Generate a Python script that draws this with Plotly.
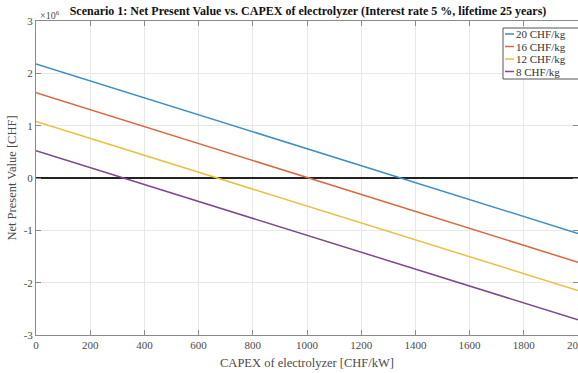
import plotly.graph_objects as go

# CAPEX of electrolyzer [CHF/kW]
capex = [0, 2000]
# Net present value [x10^6 CHF] at each CAPEX endpoint
series_names = ["20 CHF/kg", "16 CHF/kg", "12 CHF/kg", "8 CHF/kg"]
npv_20 = [2.18, -1.06]
npv_16 = [1.63, -1.61]
npv_12 = [1.08, -2.15]
npv_8 = [0.52, -2.71]
colors = ["#3b8fc4", "#d8693f", "#e8c040", "#7b4a8e"]

x_ticks = [0, 200, 400, 600, 800, 1000, 1200, 1400, 1600, 1800, 2000]
y_ticks = [-3, -2, -1, 0, 1, 2, 3]
y_tick_text = ["-3", "-2", "-1", "0", "1", "2", "3"]

SERIF = "Liberation Serif, Times New Roman, serif"
GRAY = "#4a4a4a"

W, H = 578, 373
L, R, T, B = 36, 0, 21, 38
PW, PH = W - L - R, H - T - B


def px_to_paper(px, py):
    return (px - L) / PW, 1 - (py - T) / PH


fig = go.Figure()
for name, vals, c in zip(series_names, [npv_20, npv_16, npv_12, npv_8], colors):
    fig.add_trace(go.Scatter(x=capex, y=vals, mode="lines", name=name,
                             line=dict(color=c, width=1.5), showlegend=False))

axis_common = dict(
    showline=True, linecolor="#8a8a8a", linewidth=1, mirror="ticks",
    ticks="inside", ticklen=5, tickcolor="#8a8a8a",
    showgrid=True, gridcolor="#e8e8e8", gridwidth=1,
    tickfont=dict(family=SERIF, size=11, color=GRAY),
    ticklabeloverflow="allow", automargin=False,
)

fig.update_layout(
    width=W, height=H,
    margin=dict(l=L, r=R, t=T, b=B),
    paper_bgcolor="white", plot_bgcolor="white",
    title=dict(
        text="<b>Scenario 1: Net Present Value vs. CAPEX of electrolyzer (Interest rate 5 %, lifetime 25 years)</b>",
        font=dict(family=SERIF, size=12, color="#111111"),
        x=308 / W, xanchor="center", y=1 - 11 / H, yanchor="middle",
    ),
    xaxis=dict(range=[0, 2000], tickvals=x_ticks, zeroline=False,
               title=dict(text="CAPEX of electrolyzer [CHF/kW]",
                          font=dict(family=SERIF, size=12.5, color=GRAY), standoff=8),
               **axis_common),
    yaxis=dict(range=[-3, 3], tickvals=y_ticks, ticktext=y_tick_text, zeroline=True,
               zerolinecolor="#222222", zerolinewidth=2,
               title=dict(text="Net Present Value [CHF]",
                          font=dict(family=SERIF, size=12.5, color=GRAY), standoff=4),
               **axis_common),
    showlegend=False,
)

fig.add_annotation(
    text="\u00d710<sup>6</sup>", xref="paper", yref="paper",
    x=0, xanchor="left", y=1, yanchor="bottom", showarrow=False,
    font=dict(family=SERIF, size=10, color=GRAY), xshift=2, yshift=-2,
)

# Legend box (drawn manually to match the short MATLAB-style legend lines)
bx0, by0 = px_to_paper(503, 28)
bx1, by1 = px_to_paper(582, 79)
fig.add_shape(type="rect", xref="paper", yref="paper", x0=bx0, y0=by1, x1=bx1, y1=by0,
              line=dict(color="#555555", width=1), fillcolor="white", layer="above")
row_y = [34, 46.5, 59, 71.5]
for name, c, ry in zip(series_names, colors, row_y):
    lx0, ly = px_to_paper(505, ry)
    lx1, _ = px_to_paper(514, ry)
    fig.add_shape(type="line", xref="paper", yref="paper", x0=lx0, x1=lx1, y0=ly, y1=ly,
                  line=dict(color=c, width=1.5), layer="above")
    tx, _ = px_to_paper(514, ry)
    fig.add_annotation(text=name, xref="paper", yref="paper", x=tx, y=ly,
                       xanchor="left", yanchor="middle", showarrow=False,
                       font=dict(family=SERIF, size=11, color="#333333"))

fig.write_html("out.html", config={"displayModeBar": False},
               post_script="document.body.style.margin='0';")
